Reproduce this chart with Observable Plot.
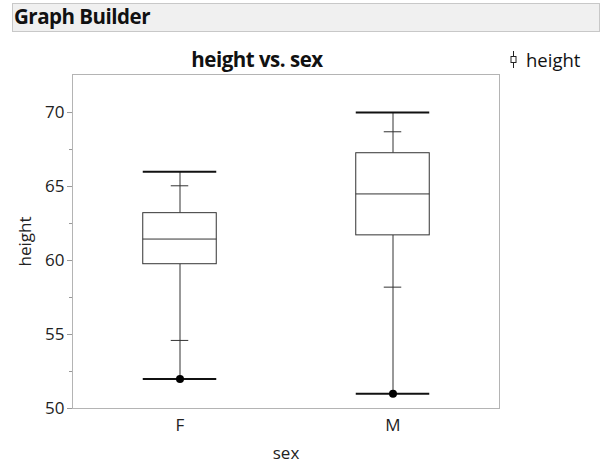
<!DOCTYPE html>
<html>
<head>
<meta charset="utf-8">
<script src="https://cdn.jsdelivr.net/npm/d3@7"></script>
<script src="https://cdn.jsdelivr.net/npm/@observablehq/plot@0.6"></script>
<style>
  body { margin: 0; background: #fff; font-family: "Open Sans", "Noto Sans", sans-serif; }
  #wrap { position: relative; width: 604px; height: 465px; overflow: hidden; }
  #header { position: absolute; left: 12px; top: 3px; width: 588px; height: 29px; background: #f0f0f0; border: 1px solid #c8c8c8; box-sizing: border-box; }
  #header span { position: absolute; left: 1px; top: -2px; font-weight: 700; font-size: 20.5px; color: #111; letter-spacing: -0.5px; }
  #title { position: absolute; left: 137px; width: 240px; top: 45px; text-align: center; font-weight: 700; font-size: 20.5px; color: #111; letter-spacing: -0.5px; }
  #legend-icon { position: absolute; left: 508px; top: 50px; }
  #legend-text { position: absolute; left: 526px; top: 47px; font-size: 18.5px; color: #111; }
  #chart { position: absolute; left: 0; top: 0; }
</style>
</head>
<body>
<div id="wrap">
  <div id="header"><span>Graph Builder</span></div>
  <div id="title">height vs. sex</div>
  <svg id="legend-icon" width="11" height="19" viewBox="0 0 11 19"><line x1="5.5" y1="1" x2="5.5" y2="18" stroke="#222" stroke-width="1"/><rect x="3" y="6.5" width="5" height="6" fill="#fff" stroke="#222" stroke-width="1"/></svg>
  <div id="legend-text">height</div>
  <div id="chart"></div>
</div>
<script>
const sex = ["F", "M"];
const minV = [52, 51];
const p10 = [54.6, 58.2];
const q1 = [59.75, 61.7];
const median = [61.45, 64.5];
const q3 = [63.2, 67.25];
const p90 = [65.05, 68.7];
const maxV = [66, 70];
const outlierLow = [52, 51];

const yTicks = [50, 55, 60, 65, 70];
const yMinor = [52.5, 57.5, 62.5, 67.5];

const data = sex.map((s, i) => ({
  sex: s, min: minV[i], p10: p10[i], q1: q1[i], median: median[i],
  q3: q3[i], p90: p90[i], max: maxV[i], pt: outlierLow[i]
}));

const W = 604, H = 465;
const mL = 72, mR = 105, mT = 74, mB = 57;
const bandW = (W - mL - mR) / sex.length;
const boxW = 74, smallW = 18;
const boxInset = (bandW - boxW) / 2;
const smallInset = (bandW - smallW) / 2;

const chart = Plot.plot({
  width: W, height: H,
  marginLeft: mL, marginRight: mR, marginTop: mT, marginBottom: mB,
  style: { fontFamily: "'Open Sans', 'Noto Sans', sans-serif", fontSize: "17px", color: "#222", background: "transparent" },
  x: { type: "band", domain: sex, padding: 0 },
  y: { domain: [50, 72.57] },
  marks: [
    Plot.frame({ stroke: "#b4b4b4" }),
    Plot.axisY({ ticks: yMinor, tickSize: 3, text: null, label: null, stroke: "#999" }),
    Plot.axisY({ ticks: yTicks, tickSize: 5, tickPadding: 3, stroke: "#999", fontSize: 17, fill: "#222",
      label: "height", labelAnchor: "center", labelArrow: "none", labelOffset: 54 }),
    Plot.axisX({ tickSize: 0, tickPadding: 10, fontSize: 17, fill: "#222",
      label: "sex", labelAnchor: "center", labelArrow: "none", labelOffset: 50 }),
    Plot.ruleX(data, { x: "sex", y1: "min", y2: "q1", stroke: "#333", strokeWidth: 1 }),
    Plot.ruleX(data, { x: "sex", y1: "q3", y2: "max", stroke: "#333", strokeWidth: 1 }),
    Plot.barY(data, { x: "sex", y1: "q1", y2: "q3", fill: "#fff", stroke: "#333", strokeWidth: 1, insetLeft: boxInset, insetRight: boxInset }),
    Plot.tickY(data, { x: "sex", y: "median", stroke: "#333", strokeWidth: 1, insetLeft: boxInset, insetRight: boxInset }),
    Plot.tickY(data, { x: "sex", y: "min", stroke: "#111", strokeWidth: 2, insetLeft: boxInset, insetRight: boxInset }),
    Plot.tickY(data, { x: "sex", y: "max", stroke: "#111", strokeWidth: 2, insetLeft: boxInset, insetRight: boxInset }),
    Plot.tickY(data, { x: "sex", y: "p10", stroke: "#333", strokeWidth: 1, insetLeft: smallInset, insetRight: smallInset }),
    Plot.tickY(data, { x: "sex", y: "p90", stroke: "#333", strokeWidth: 1, insetLeft: smallInset, insetRight: smallInset }),
    Plot.dot(data, { x: "sex", y: "pt", r: 4, fill: "#000", stroke: "none" })
  ]
});
document.getElementById("chart").appendChild(chart);
</script>
</body>
</html>
